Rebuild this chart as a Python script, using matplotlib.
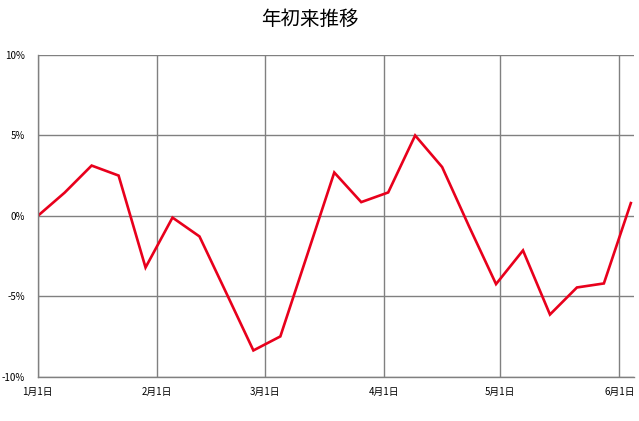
import matplotlib.pyplot as plt
import matplotlib.dates as mdates
import pandas as pd

plt.rcParams['font.family'] = ['Noto Sans CJK JP', 'DejaVu Sans']

# 週次の年初来リターン (%)
dates = ["2021-01-01", "2021-01-08", "2021-01-15", "2021-01-22", "2021-01-29",
         "2021-02-05", "2021-02-12", "2021-02-19", "2021-02-26", "2021-03-05",
         "2021-03-12", "2021-03-19", "2021-03-26", "2021-04-02", "2021-04-09",
         "2021-04-16", "2021-04-23", "2021-04-30", "2021-05-07", "2021-05-14",
         "2021-05-21", "2021-05-28", "2021-06-04"]
returns = [0.0, 1.45, 3.13, 2.51, -3.2, -0.1, -1.27, -4.8, -8.35, -7.48,
           -2.4, 2.70, 0.86, 1.46, 5.0, 3.04, -0.65, -4.23, -2.14, -6.12,
           -4.44, -4.19, 0.80]
month_ticks = ["2021-01-01", "2021-02-01", "2021-03-01", "2021-04-01", "2021-05-01", "2021-06-01"]
month_labels = ["1月1日", "2月1日", "3月1日", "4月1日", "5月1日", "6月1日"]
y_ticks = [-10, -5, 0, 5, 10]

x = pd.to_datetime(dates)

fig = plt.figure(figsize=(6.39, 4.21), dpi=100)
ax = fig.add_axes([0.059, 0.1045, 0.933, 0.765])

ax.plot(x, returns, color="#e8001c", linewidth=1.9, solid_joinstyle="miter")

ax.set_ylim(-10, 10)
ax.set_xlim(pd.Timestamp("2021-01-01"), pd.Timestamp("2021-06-04") + pd.Timedelta(hours=19))
ax.set_yticks(y_ticks)
ax.set_yticklabels([f"{v}%" for v in y_ticks])
ax.set_xticks(pd.to_datetime(month_ticks))
ax.set_xticklabels(month_labels)

ax.grid(True, color="#808080", linewidth=1)
ax.set_axisbelow(True)
for side in ["top", "right"]:
    ax.spines[side].set_visible(False)
for side in ["left", "bottom"]:
    ax.spines[side].set_color("#808080")
    ax.spines[side].set_linewidth(1)
ax.tick_params(axis="both", length=0, labelsize=7, colors="#000000")
ax.tick_params(axis="y", pad=9)
ax.tick_params(axis="x", pad=7)

fig.text(0.485, 0.953, "年初来推移", ha="center", va="center", fontsize=14)

fig.savefig("out.png", dpi=100)
